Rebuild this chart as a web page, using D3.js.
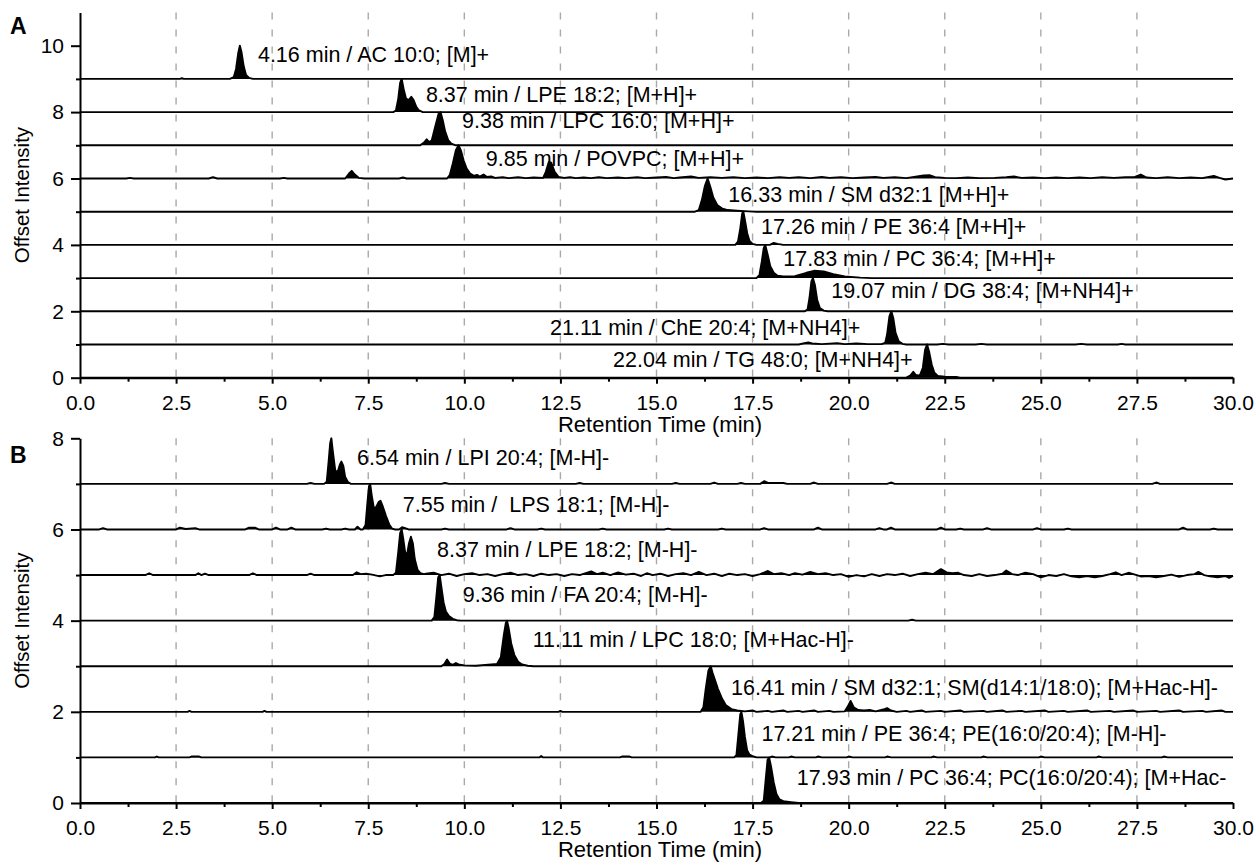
<!DOCTYPE html>
<html>
<head>
<meta charset="utf-8">
<script src="https://cdn.jsdelivr.net/npm/d3@7"></script>
<style>
  html, body { margin: 0; padding: 0; background: #fff; }
  svg { display: block; font-family: "Liberation Sans", Arial, Helvetica, sans-serif; }
  text { white-space: pre; }
</style>
</head>
<body>
<svg id="chart" width="1259" height="863"></svg>
<script>
// ---------- Axis ticks ----------
const timeTicks = [0, 2.5, 5, 7.5, 10, 12.5, 15, 17.5, 20, 22.5, 25, 27.5, 30];
const timeMinorTicks = [1.25, 3.75, 6.25, 8.75, 11.25, 13.75, 16.25, 18.75, 21.25, 23.75, 26.25, 28.75];
const gridTimes = [2.5, 5, 7.5, 10, 12.5, 15, 17.5, 20, 22.5, 25, 27.5];
const yTicksA = [0, 2, 4, 6, 8, 10];
const yMinorA = [1, 3, 5, 7, 9];
const yTicksB = [0, 2, 4, 6, 8];
const yMinorB = [1, 3, 5, 7];

// ---------- Panel A: positive mode (top trace first) ----------
const offsetsA = [9, 8, 7, 6, 5, 4, 3, 2, 1, 0];
const peakTimesA = [4.16, 8.37, 9.38, 9.85, 16.33, 17.26, 17.83, 19.07, 21.11, 22.04];
const namesA = [
  "AC 10:0; [M]+", "LPE 18:2; [M+H]+", "LPC 16:0; [M+H]+", "POVPC; [M+H]+",
  "SM d32:1 [M+H]+", "PE 36:4 [M+H]+", "PC 36:4; [M+H]+", "DG 38:4; [M+NH4]+",
  "ChE 20:4; [M+NH4]+", "TG 48:0; [M+NH4]+"
];
// label anchor: [start time (min), height above trace baseline]
const labelAtA = [[4.63,0.5],[9.0,0.31],[9.94,0.51],[10.56,0.38],[16.87,0.28],[17.72,0.34],[18.30,0.35],[19.55,0.40],[12.23,0.29],[13.87,0.33]];

// normalised traces: [retention time, relative intensity]
const trAC = [[0,0],[2.6,0],[2.65,0.02],[2.7,0],[3.9,0],[4.0,0.05],[4.06,0.3],[4.12,0.8],[4.16,1.0],[4.2,0.82],[4.26,0.38],[4.32,0.12],[4.4,0.03],[4.5,0],[30,0]];
const trLPEpos = [[0,0],[8.15,0],[8.22,0.05],[8.28,0.4],[8.33,0.88],[8.37,1.0],[8.42,0.7],[8.48,0.42],[8.55,0.36],[8.62,0.46],[8.68,0.36],[8.75,0.16],[8.82,0.05],[8.92,0],[30,0]];
const trLPC16 = [[0,0],[8.85,0],[8.95,0.08],[9.02,0.18],[9.08,0.1],[9.15,0.14],[9.25,0.6],[9.33,0.95],[9.38,1.0],[9.44,0.75],[9.5,0.42],[9.58,0.16],[9.66,0.05],[9.78,0],[30,0]];
const trPOVPC = [[0,0],[1.2,0],[1.3,0.02],[1.4,0],[3.35,0],[3.46,0.04],[3.57,0],[5.2,0],[5.3,0.02],[5.4,0],[6.9,0],[7.0,0.15],[7.07,0.23],[7.15,0.12],[7.25,0.02],[7.4,0],[8.3,0],[8.4,0.03],[8.5,0],[9.55,0],[9.62,0.1],[9.7,0.45],[9.78,0.85],[9.85,1.0],[9.91,0.85],[9.98,0.55],[10.06,0.3],[10.15,0.15],[10.25,0.08],[10.33,0.11],[10.4,0.06],[10.5,0.12],[10.58,0.05],[10.7,0.06],[10.8,0.02],[11.0,0.04],[11.15,0.01],[11.4,0.04],[11.6,0.01],[11.8,0.03],[12.05,0.02],[12.12,0.2],[12.2,0.5],[12.26,0.48],[12.35,0.2],[12.45,0.05],[12.6,0.02],[12.75,0.04],[12.9,0.01],[13.1,0.03],[13.3,0.01],[13.5,0.04],[13.7,0.01],[14.0,0.03],[14.2,0.01],[14.5,0.04],[14.7,0.01],[15.0,0.03],[15.25,0.05],[15.45,0.01],[15.6,0.03],[15.9,0.06],[16.1,0.02],[16.4,0.04],[16.7,0.02],[17.0,0.04],[17.3,0.01],[17.6,0.03],[17.9,0.01],[18.2,0.04],[18.45,0.02],[18.7,0.04],[19.0,0.01],[19.3,0.05],[19.5,0.02],[19.8,0.04],[20.1,0.01],[20.4,0.03],[20.7,0.05],[20.9,0.02],[21.2,0.04],[21.5,0.01],[21.7,0.05],[21.95,0.09],[22.1,0.1],[22.25,0.04],[22.5,0.02],[22.8,0.01],[23.1,0.03],[23.4,0.01],[23.8,0.02],[24.1,0.04],[24.3,0.06],[24.5,0.02],[24.8,0.03],[25.1,0.01],[25.4,0.03],[25.7,0.01],[26.0,0.03],[26.3,0.01],[26.6,0.04],[26.9,0.02],[27.2,0.04],[27.45,0.05],[27.6,0.12],[27.75,0.03],[28.0,0.01],[28.3,0.04],[28.6,0.01],[28.9,0.03],[29.2,0.01],[29.5,0.08],[29.65,0.02],[29.8,-0.03],[30,0]];
const trSMpos = [[0,0],[16.0,0],[16.1,0.05],[16.18,0.35],[16.26,0.78],[16.33,1.0],[16.4,0.75],[16.48,0.42],[16.58,0.2],[16.7,0.1],[16.85,0.05],[17.1,0.03],[17.4,0.01],[17.6,0],[30,0]];
const trPEpos = [[0,0],[17.05,0],[17.12,0.1],[17.18,0.5],[17.23,0.95],[17.26,1.0],[17.3,0.75],[17.36,0.35],[17.42,0.12],[17.5,0.03],[17.6,0],[17.95,0],[18.05,0.06],[18.15,0.03],[18.3,0],[30,0]];
const trPCpos = [[0,0],[17.6,0],[17.68,0.1],[17.74,0.5],[17.79,0.9],[17.83,1.0],[17.89,0.72],[17.96,0.36],[18.05,0.16],[18.15,0.07],[18.3,0.05],[18.6,0.06],[18.9,0.16],[19.1,0.22],[19.35,0.2],[19.6,0.12],[19.9,0.05],[20.3,0.015],[20.6,0],[30,0]];
const trDG = [[0,0],[18.85,0],[18.93,0.05],[18.98,0.4],[19.03,0.9],[19.07,1.0],[19.12,0.8],[19.18,0.35],[19.25,0.1],[19.35,0.02],[19.45,0],[30,0]];
const trChE = [[0,0],[18.7,0],[18.85,0.04],[18.95,0.06],[19.05,0.03],[19.3,0.01],[19.7,0.04],[19.9,0.01],[20.2,0.03],[20.5,0.01],[20.85,0.01],[20.95,0.05],[21.0,0.3],[21.06,0.85],[21.11,1.0],[21.16,0.8],[21.22,0.35],[21.3,0.1],[21.4,0.02],[21.5,0],[22.3,0],[22.45,0.02],[22.6,0],[23.3,0],[23.45,0.02],[23.6,0],[25.9,0],[26.05,0.02],[26.2,0],[27.0,0],[27.1,0.02],[27.2,0],[30,0]];
const trTG = [[0,0],[21.5,0],[21.6,0.06],[21.68,0.18],[21.75,0.08],[21.85,0.06],[21.93,0.3],[21.99,0.85],[22.04,1.0],[22.09,0.8],[22.16,0.4],[22.23,0.15],[22.32,0.05],[22.5,0.03],[22.8,0.02],[22.9,0],[30,0]];
const tracesA = [trAC, trLPEpos, trLPC16, trPOVPC, trSMpos, trPEpos, trPCpos, trDG, trChE, trTG];

// ---------- Panel B: negative mode (top trace first) ----------
const offsetsB = [7, 6, 5, 4, 3, 2, 1, 0];
const peakTimesB = [6.54, 7.55, 8.37, 9.36, 11.11, 16.41, 17.21, 17.93];
const namesB = [
  "LPI 20:4; [M-H]-", " LPS 18:1; [M-H]-", "LPE 18:2; [M-H]-", "FA 20:4; [M-H]-",
  "LPC 18:0; [M+Hac-H]-", "SM d32:1; SM(d14:1/18:0); [M+Hac-H]-",
  "PE 36:4; PE(16:0/20:4); [M-H]-", "PC 36:4; PC(16:0/20:4); [M+Hac-"
];
const labelAtB = [[7.21,0.41],[8.40,0.38],[9.29,0.40],[9.96,0.41],[11.78,0.42],[16.94,0.37],[17.73,0.37],[18.65,0.40]];

const trLPI = [[0,0],[5.9,0],[6.0,0.02],[6.1,0],[6.35,0],[6.42,0.05],[6.47,0.5],[6.51,0.9],[6.54,1.0],[6.58,0.7],[6.64,0.3],[6.7,0.25],[6.76,0.42],[6.8,0.49],[6.85,0.4],[6.9,0.15],[6.97,0.04],[7.05,0],[9.4,0],[9.5,0.02],[9.6,0],[12.9,0],[13.0,0.02],[13.1,0],[15.4,0],[15.5,0.02],[15.6,0],[16.4,0],[16.5,0.03],[16.6,0],[17.1,0],[17.2,0.02],[17.3,0],[17.7,0],[17.8,0.06],[17.9,0.02],[18.3,0.02],[18.4,0],[19.0,0],[19.1,0.03],[19.2,0],[21.0,0],[21.1,0.03],[21.2,0],[27.9,0],[28.0,0.03],[28.1,0],[30,0]];
const trLPS = [[0,0],[0.5,0],[0.6,0.03],[0.7,0],[2.5,0],[2.6,0.04],[2.75,0.01],[3.0,0.03],[3.1,0],[4.3,0],[4.4,0.04],[4.55,0.04],[4.65,0],[5.0,0],[5.1,0.04],[5.2,0],[5.4,0],[5.5,0.04],[5.6,0],[6.3,0],[6.4,0.02],[6.5,0],[6.8,0],[6.9,0.02],[7.0,0],[7.15,0],[7.22,0.06],[7.3,0],[7.36,0],[7.43,0.1],[7.48,0.6],[7.52,0.95],[7.55,1.0],[7.59,0.75],[7.65,0.45],[7.71,0.5],[7.77,0.6],[7.82,0.63],[7.88,0.5],[7.96,0.3],[8.05,0.1],[8.12,0.02],[8.2,0],[8.3,0],[8.38,0.05],[8.46,0.03],[8.55,0],[9.4,0],[9.5,0.02],[9.6,0],[11.1,0],[11.2,0.03],[11.3,0],[11.9,0],[12.0,0.02],[12.1,0],[13.5,0],[13.6,0.02],[13.7,0],[15.2,0],[15.3,0.02],[15.4,0],[16.6,0],[16.7,0.02],[16.8,0],[17.7,0],[17.8,0.03],[17.9,0],[19.1,0],[19.2,0.04],[19.3,0],[20.7,0],[20.8,0.03],[20.9,0],[21.0,0],[21.1,0.04],[21.2,0],[22.3,0],[22.4,0.04],[22.5,0],[22.8,0],[22.9,0.02],[23.0,0],[23.5,0],[23.6,0.03],[23.7,0],[24.8,0],[24.9,0.03],[25.0,0],[25.6,0],[25.7,0.02],[25.8,0],[28.6,0],[28.7,0.04],[28.8,0],[29.4,0],[29.5,0.02],[29.6,0],[30,0]];
const trLPEneg = [[0,0],[1.7,0],[1.8,0.04],[1.9,0],[3.0,0],[3.08,0.04],[3.16,0],[3.25,0.03],[3.35,0],[4.4,0],[4.5,0.04],[4.6,0],[5.9,0],[6.0,0.03],[6.1,0],[7.1,0],[7.2,0.06],[7.3,0.02],[7.45,0.03],[7.6,0.01],[7.8,-0.03],[7.95,0],[8.15,0],[8.22,0.05],[8.28,0.5],[8.33,0.92],[8.37,1.0],[8.41,0.8],[8.46,0.5],[8.51,0.45],[8.56,0.7],[8.61,0.84],[8.66,0.7],[8.71,0.35],[8.78,0.12],[8.86,0.04],[8.95,0.02],[9.0,0.03],[9.2,0.05],[9.4,0.0],[9.6,0.03],[9.8,-0.02],[10.0,0.02],[10.2,0.04],[10.4,0.0],[10.6,0.02],[10.8,-0.02],[11.0,0.02],[11.2,0.05],[11.4,0.0],[11.6,0.02],[11.8,-0.02],[12.0,0.03],[12.2,0.0],[12.4,0.02],[12.6,-0.02],[12.8,0.02],[13.0,0.0],[13.3,0.08],[13.45,0.02],[13.6,0.05],[13.8,0.0],[14.0,0.06],[14.2,0.01],[14.4,0.03],[14.6,-0.02],[14.75,0.04],[14.9,0.0],[15.1,0.03],[15.3,-0.02],[15.5,0.02],[15.7,0.04],[15.9,0.0],[16.1,0.07],[16.3,0.0],[16.5,0.03],[16.7,-0.02],[16.9,0.03],[17.1,0.0],[17.3,0.02],[17.5,-0.02],[17.7,0.02],[17.9,0.09],[18.05,0.02],[18.25,0.04],[18.45,0.0],[18.6,0.04],[18.8,0.01],[19.0,0.07],[19.2,0.02],[19.4,0.04],[19.6,0.0],[19.8,0.02],[20.0,-0.04],[20.2,0.0],[20.4,-0.03],[20.6,0.02],[20.8,-0.02],[21.0,0.02],[21.2,0.0],[21.4,0.03],[21.6,-0.02],[21.8,0.02],[22.0,0.05],[22.2,0.02],[22.4,0.13],[22.55,0.06],[22.7,0.04],[22.85,0.05],[23.0,0.0],[23.2,-0.02],[23.4,0.02],[23.6,-0.02],[23.8,0.0],[24.0,0.03],[24.1,0.1],[24.25,0.02],[24.4,0.0],[24.6,0.05],[24.8,0.02],[25.0,-0.05],[25.2,0.0],[25.4,-0.02],[25.6,0.02],[25.8,-0.03],[26.0,-0.05],[26.2,-0.02],[26.4,-0.05],[26.6,-0.02],[26.8,0.02],[26.95,0.06],[27.1,0.0],[27.3,0.05],[27.45,0.01],[27.6,-0.03],[27.8,-0.02],[28.0,-0.05],[28.2,-0.02],[28.4,0.01],[28.6,-0.04],[28.8,0.0],[29.0,0.02],[29.1,0.07],[29.25,0.0],[29.4,-0.03],[29.6,-0.05],[29.8,-0.02],[29.9,-0.06],[30,-0.02]];
const trFA = [[0,0],[9.15,0],[9.22,0.08],[9.27,0.5],[9.32,0.95],[9.36,1.0],[9.4,0.75],[9.46,0.4],[9.52,0.2],[9.6,0.1],[9.7,0.04],[9.8,0.01],[9.9,0],[21.55,0],[21.65,0.02],[21.75,0],[30,0]];
const trLPC18 = [[0,0],[9.4,0],[9.48,0.05],[9.55,0.15],[9.62,0.06],[9.7,0.03],[9.78,0.07],[9.85,0.04],[10.0,0.02],[10.3,0.01],[10.7,0.04],[10.85,0.05],[10.95,0.2],[11.03,0.7],[11.08,0.95],[11.11,1.0],[11.15,0.85],[11.22,0.5],[11.3,0.25],[11.4,0.1],[11.5,0.04],[11.65,0.01],[11.8,0],[30,0]];
const trSMneg = [[0,0],[2.8,0],[2.85,0.02],[2.9,0],[4.75,0],[4.8,0.02],[4.85,0],[12.45,0],[12.5,0.02],[12.55,0],[16.15,0],[16.22,0.1],[16.28,0.5],[16.35,0.9],[16.41,1.0],[16.46,0.85],[16.52,0.7],[16.6,0.5],[16.7,0.3],[16.8,0.15],[16.95,0.06],[17.1,0.03],[17.3,0.01],[17.5,0.03],[17.6,0],[17.9,0.02],[18.0,0],[18.3,0.03],[18.4,0],[18.7,0.02],[18.8,0],[19.1,0.03],[19.2,0],[19.5,0.02],[19.6,0],[19.9,0.01],[19.98,0.12],[20.05,0.24],[20.13,0.1],[20.25,0.04],[20.4,0.03],[20.55,0.04],[20.7,0.01],[20.9,0.05],[21.0,0.08],[21.1,0.03],[21.25,0],[21.5,0.02],[21.6,0],[21.9,0.03],[22.0,0],[22.4,0.02],[22.5,0],[22.9,0.03],[23.0,0],[23.5,0.02],[23.6,0],[24.0,0.03],[24.1,0],[24.5,0.02],[24.6,0],[25.1,0.03],[25.2,0],[25.6,0.02],[25.7,0],[26.2,0.03],[26.3,0],[26.8,0.02],[26.9,0],[27.4,0.03],[27.5,0],[28.0,0.02],[28.1,0],[28.6,0.03],[28.7,0],[29.2,0.02],[29.3,0],[29.7,0.03],[29.8,0],[30,0]];
const trPEneg = [[0,0],[1.95,0],[2.0,0.02],[2.05,0],[2.85,0],[2.9,0.02],[3.1,0.02],[3.15,0],[11.95,0],[12.0,0.03],[12.05,0],[14.05,0],[14.1,0.02],[14.3,0.02],[14.35,0],[17.02,0],[17.08,0.05],[17.13,0.5],[17.18,0.95],[17.21,1.0],[17.25,0.8],[17.3,0.45],[17.36,0.15],[17.42,0.06],[17.5,0.03],[17.6,0],[17.95,0],[18.0,0.02],[18.1,0],[18.45,0],[18.5,0.02],[18.6,0],[19.15,0],[19.2,0.02],[19.3,0],[19.95,0],[20.0,0.02],[20.1,0],[20.95,0],[21.0,0.02],[21.1,0],[22.15,0],[22.2,0.02],[22.3,0],[23.45,0],[23.5,0.02],[23.6,0],[24.95,0],[25.0,0.02],[25.1,0],[26.45,0],[26.5,0.02],[26.6,0],[28.15,0],[28.2,0.02],[28.3,0],[30,0]];
const trPCneg = [[0,0],[17.72,0],[17.79,0.05],[17.84,0.5],[17.89,0.95],[17.93,1.0],[17.98,0.8],[18.05,0.45],[18.12,0.2],[18.2,0.08],[18.3,0.04],[18.5,0.02],[18.7,0],[30,0]];
const tracesB = [trLPI, trLPS, trLPEneg, trFA, trLPC18, trSMneg, trPEneg, trPCneg];

// ---------- Drawing ----------
const svg = d3.select("#chart");
const FONT_TICK = 21, FONT_LABEL = 21.5, FONT_TITLE = 22, FONT_YTITLE = 20.5;
const x = d3.scaleLinear().domain([0, 30]).range([80, 1233]);

function drawPanel(p) {
  const y = d3.scaleLinear().domain(p.yDomain).range(p.yRange);
  const g = svg.append("g");

  // dashed vertical grid
  g.append("g").selectAll("line").data(gridTimes).join("line")
    .attr("x1", d => x(d)).attr("x2", d => x(d))
    .attr("y1", y(p.yDomain[1])).attr("y2", y(0))
    .attr("stroke", "#a9a9a9").attr("stroke-width", 1.4)
    .attr("stroke-dasharray", "7,10");

  // chromatogram traces, each filled down to its own offset baseline
  p.traces.forEach((tr, i) => {
    const off = p.offsets[i];
    const area = d3.area().x(d => x(d[0])).y0(y(off)).y1(d => y(off + d[1]));
    const line = d3.line().x(d => x(d[0])).y(d => y(off + d[1]));
    g.append("path").attr("d", area(tr)).attr("fill", "#000");
    g.append("path").attr("d", line(tr)).attr("fill", "none")
      .attr("stroke", "#000").attr("stroke-width", 1.9).attr("stroke-linejoin", "round");
  });

  // peak annotations
  g.append("g").selectAll("text").data(p.names).join("text")
    .attr("x", (d, i) => x(p.labelAt[i][0]))
    .attr("y", (d, i) => y(p.offsets[i] + p.labelAt[i][1]))
    .attr("font-size", FONT_LABEL).attr("fill", "#000")
    .text((d, i) => `${p.peakTimes[i].toFixed(2)} min / ${d}`);

  // x axis
  const xa = g.append("g").attr("transform", `translate(0,${y(0)})`)
    .call(d3.axisBottom(x).tickValues(timeTicks).tickFormat(d3.format(".1f"))
      .tickSize(6).tickSizeOuter(0).tickPadding(11));
  xa.selectAll("text").attr("font-size", FONT_TICK).attr("font-family", null).attr("fill", "#000");
  const xm = g.append("g").attr("transform", `translate(0,${y(0)})`)
    .call(d3.axisBottom(x).tickValues(timeMinorTicks).tickFormat("").tickSize(4).tickSizeOuter(0));
  xm.select(".domain").remove();

  // y axis
  const ya = g.append("g").attr("transform", `translate(${x(0)},0)`)
    .call(d3.axisLeft(y).tickValues(p.yTicks).tickFormat(d3.format("d"))
      .tickSize(9).tickSizeOuter(0).tickPadding(7));
  ya.selectAll("text").attr("font-size", FONT_TICK).attr("font-family", null).attr("fill", "#000");
  const ym = g.append("g").attr("transform", `translate(${x(0)},0)`)
    .call(d3.axisLeft(y).tickValues(p.yMinor).tickFormat("").tickSize(4).tickSizeOuter(0));
  ym.select(".domain").remove();

  g.selectAll(".domain, .tick line").attr("stroke", "#000").attr("stroke-width", 2);

  // axis titles and panel letter
  g.append("text").attr("x", 660).attr("y", y(0) + 54)
    .attr("text-anchor", "middle").attr("font-size", FONT_TITLE).text("Retention Time (min)");
  const yMid = (p.yRange[0] + p.yRange[1]) / 2;
  g.append("text").attr("transform", `translate(28.5,${yMid}) rotate(-90)`)
    .attr("text-anchor", "middle").attr("font-size", FONT_YTITLE).text("Offset Intensity");
  g.append("text").attr("x", 10).attr("y", p.letterY)
    .attr("font-size", 23).attr("font-weight", "bold").text(p.letter);
}

drawPanel({
  letter: "A", letterY: 34,
  yDomain: [0, 11], yRange: [377.7, 12.5],
  yTicks: yTicksA, yMinor: yMinorA,
  offsets: offsetsA, traces: tracesA,
  names: namesA, peakTimes: peakTimesA, labelAt: labelAtA
});

drawPanel({
  letter: "B", letterY: 463,
  yDomain: [0, 8], yRange: [803, 438.3],
  yTicks: yTicksB, yMinor: yMinorB,
  offsets: offsetsB, traces: tracesB,
  names: namesB, peakTimes: peakTimesB, labelAt: labelAtB
});
</script>
</body>
</html>
